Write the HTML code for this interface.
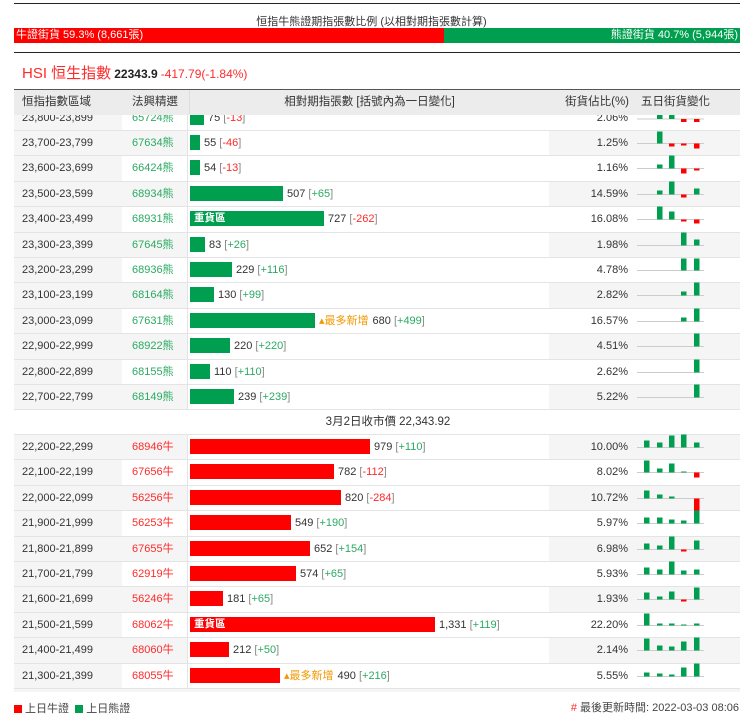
<!DOCTYPE html>
<html><head><meta charset="utf-8">
<style>
*{margin:0;padding:0;box-sizing:border-box}
body{width:743px;height:720px;background:#fff;font-family:"Liberation Sans","Noto Sans CJK TC",sans-serif;font-size:11px;color:#333;position:relative;overflow:hidden}
.abs{position:absolute}
.r{position:absolute;left:14px;width:726px;height:25.4px;border-bottom:1px solid #e4e4e4;background:#fff}
.r.gy .c2,.r.gy .p,.r.gy .s{background:#f5f5f5}
.c1{position:absolute;left:0;width:108px;height:100%;background:#f5f5f5;padding-left:8px;line-height:25px}
.c2{position:absolute;left:108px;width:66px;height:100%;padding-left:10px;line-height:25px;border-right:1px solid #e4e4e4}
.g{color:#2aaa62}.rd{color:#ff2a2a}
.b{position:absolute;left:175px;width:360px;height:100%;line-height:25px;white-space:nowrap;padding-left:1px}
.b i{display:inline-block;height:15px;vertical-align:-4px;margin-right:4px;position:relative;color:#fff;font-style:normal;font-size:11px;line-height:15px;padding-left:0}
.b i b{position:absolute;left:4px;top:0;font-weight:bold;font-size:10.5px}
.bg{background:#009f4f}.br{background:#ff0000}
.b .n{color:#333}.b .k{color:#888}
.o{color:#f39800;margin-right:4px}
.p{position:absolute;left:535px;width:85px;height:100%;text-align:right;padding-right:6px;line-height:25px}
.s{position:absolute;left:620px;width:106px;height:100%}
.s svg{position:absolute;left:0;top:0;overflow:visible}
</style></head><body>
<div class="abs" style="left:14px;top:3px;width:726px;height:1px;background:#222"></div>
<div class="abs" style="left:0;top:13px;width:743px;text-align:center;font-size:11px;color:#333">恒指牛熊證期指張數比例 (以相對期指張數計算)</div>
<div class="abs" style="left:14px;top:28px;width:430px;height:15px;background:#ff0000;color:#fff;line-height:15px;padding-left:2px">牛證街貨 59.3% (8,661張)</div>
<div class="abs" style="left:444px;top:28px;width:296px;height:15px;background:#009f4f;color:#fff;line-height:15px;text-align:right;padding-right:2px">熊證街貨 40.7% (5,944張)</div>
<div class="abs" style="left:14px;top:52px;width:726px;height:1px;background:#222"></div>
<div class="abs" style="left:22px;top:62px;white-space:nowrap"><span style="color:#ff2a2a;font-size:15px">HSI 恒生指數</span> <span style="font-size:12px;color:#222;font-weight:bold">22343.9</span> <span style="font-size:12px;color:#ff2a2a">-417.79(-1.84%)</span></div>

<div id="rows">
<div class="r" style="top:105.6px"><div class="c1">23,800-23,899</div><div class="c2 g">65724熊</div><div class="b"><i class="bg" style="width:14px"></i><span class="n">75 </span><span class="k">[<span class="rd">-13</span>]</span></div><div class="p">2.06%</div><div class="s"></div></div>
<div class="r gy" style="top:131px"><div class="c1">23,700-23,799</div><div class="c2 g">67634熊</div><div class="b"><i class="bg" style="width:10px"></i><span class="n">55 </span><span class="k">[<span class="rd">-46</span>]</span></div><div class="p">1.25%</div><div class="s"></div></div>
<div class="r" style="top:156.4px"><div class="c1">23,600-23,699</div><div class="c2 g">66424熊</div><div class="b"><i class="bg" style="width:10px"></i><span class="n">54 </span><span class="k">[<span class="rd">-13</span>]</span></div><div class="p">1.16%</div><div class="s"></div></div>
<div class="r gy" style="top:181.8px"><div class="c1">23,500-23,599</div><div class="c2 g">68934熊</div><div class="b"><i class="bg" style="width:93px"></i><span class="n">507 </span><span class="k">[<span class="g">+65</span>]</span></div><div class="p">14.59%</div><div class="s"></div></div>
<div class="r" style="top:207.2px"><div class="c1">23,400-23,499</div><div class="c2 g">68931熊</div><div class="b"><i class="bg" style="width:134px"><b>重貨區</b></i><span class="n">727 </span><span class="k">[<span class="rd">-262</span>]</span></div><div class="p">16.08%</div><div class="s"></div></div>
<div class="r gy" style="top:232.6px"><div class="c1">23,300-23,399</div><div class="c2 g">67645熊</div><div class="b"><i class="bg" style="width:15px"></i><span class="n">83 </span><span class="k">[<span class="g">+26</span>]</span></div><div class="p">1.98%</div><div class="s"></div></div>
<div class="r" style="top:258px"><div class="c1">23,200-23,299</div><div class="c2 g">68936熊</div><div class="b"><i class="bg" style="width:42px"></i><span class="n">229 </span><span class="k">[<span class="g">+116</span>]</span></div><div class="p">4.78%</div><div class="s"></div></div>
<div class="r gy" style="top:283.4px"><div class="c1">23,100-23,199</div><div class="c2 g">68164熊</div><div class="b"><i class="bg" style="width:24px"></i><span class="n">130 </span><span class="k">[<span class="g">+99</span>]</span></div><div class="p">2.82%</div><div class="s"></div></div>
<div class="r" style="top:308.8px"><div class="c1">23,000-23,099</div><div class="c2 g">67631熊</div><div class="b"><i class="bg" style="width:125px"></i><span class="o">▴最多新增</span><span class="n">680 </span><span class="k">[<span class="g">+499</span>]</span></div><div class="p">16.57%</div><div class="s"></div></div>
<div class="r gy" style="top:334.2px"><div class="c1">22,900-22,999</div><div class="c2 g">68922熊</div><div class="b"><i class="bg" style="width:40px"></i><span class="n">220 </span><span class="k">[<span class="g">+220</span>]</span></div><div class="p">4.51%</div><div class="s"></div></div>
<div class="r" style="top:359.6px"><div class="c1">22,800-22,899</div><div class="c2 g">68155熊</div><div class="b"><i class="bg" style="width:20px"></i><span class="n">110 </span><span class="k">[<span class="g">+110</span>]</span></div><div class="p">2.62%</div><div class="s"></div></div>
<div class="r gy" style="top:385px"><div class="c1">22,700-22,799</div><div class="c2 g">68149熊</div><div class="b"><i class="bg" style="width:44px"></i><span class="n">239 </span><span class="k">[<span class="g">+239</span>]</span></div><div class="p">5.22%</div><div class="s"></div></div>

<div class="abs" style="left:14px;top:410px;width:726px;height:25px;background:#fff;line-height:25px;text-align:center;font-size:11.5px;padding-left:22px;border-bottom:1px solid #e4e4e4">3月2日收市價 22,343.92</div>

<div class="r gy" style="top:435px"><div class="c1">22,200-22,299</div><div class="c2 rd">68946牛</div><div class="b"><i class="br" style="width:180px"></i><span class="n">979 </span><span class="k">[<span class="g">+110</span>]</span></div><div class="p">10.00%</div><div class="s"></div></div>
<div class="r" style="top:460.4px"><div class="c1">22,100-22,199</div><div class="c2 rd">67656牛</div><div class="b"><i class="br" style="width:144px"></i><span class="n">782 </span><span class="k">[<span class="rd">-112</span>]</span></div><div class="p">8.02%</div><div class="s"></div></div>
<div class="r gy" style="top:485.8px"><div class="c1">22,000-22,099</div><div class="c2 rd">56256牛</div><div class="b"><i class="br" style="width:151px"></i><span class="n">820 </span><span class="k">[<span class="rd">-284</span>]</span></div><div class="p">10.72%</div><div class="s"></div></div>
<div class="r" style="top:511.2px"><div class="c1">21,900-21,999</div><div class="c2 rd">56253牛</div><div class="b"><i class="br" style="width:101px"></i><span class="n">549 </span><span class="k">[<span class="g">+190</span>]</span></div><div class="p">5.97%</div><div class="s"></div></div>
<div class="r gy" style="top:536.6px"><div class="c1">21,800-21,899</div><div class="c2 rd">67655牛</div><div class="b"><i class="br" style="width:120px"></i><span class="n">652 </span><span class="k">[<span class="g">+154</span>]</span></div><div class="p">6.98%</div><div class="s"></div></div>
<div class="r" style="top:562px"><div class="c1">21,700-21,799</div><div class="c2 rd">62919牛</div><div class="b"><i class="br" style="width:106px"></i><span class="n">574 </span><span class="k">[<span class="g">+65</span>]</span></div><div class="p">5.93%</div><div class="s"></div></div>
<div class="r gy" style="top:587.4px"><div class="c1">21,600-21,699</div><div class="c2 rd">56246牛</div><div class="b"><i class="br" style="width:33px"></i><span class="n">181 </span><span class="k">[<span class="g">+65</span>]</span></div><div class="p">1.93%</div><div class="s"></div></div>
<div class="r" style="top:612.8px"><div class="c1">21,500-21,599</div><div class="c2 rd">68062牛</div><div class="b"><i class="br" style="width:245px"><b>重貨區</b></i><span class="n">1,331 </span><span class="k">[<span class="g">+119</span>]</span></div><div class="p">22.20%</div><div class="s"></div></div>
<div class="r gy" style="top:638.2px"><div class="c1">21,400-21,499</div><div class="c2 rd">68060牛</div><div class="b"><i class="br" style="width:39px"></i><span class="n">212 </span><span class="k">[<span class="g">+50</span>]</span></div><div class="p">2.14%</div><div class="s"></div></div>
<div class="r" style="top:663.6px"><div class="c1">21,300-21,399</div><div class="c2 rd">68055牛</div><div class="b"><i class="br" style="width:90px"></i><span class="o">▴最多新增</span><span class="n">490 </span><span class="k">[<span class="g">+216</span>]</span></div><div class="p">5.55%</div><div class="s"></div></div>
</div>
<div class="abs" style="left:14px;top:689px;width:726px;height:3px;background:#f5f5f5"></div>

<div class="abs" style="left:14px;top:89px;width:726px;height:26px;background:#ececec;border-top:1px solid #555;font-size:11.5px;color:#333;line-height:24px">
<span class="abs" style="left:8px">恒指指數區域</span>
<span class="abs" style="left:118px">法興精選</span>
<span class="abs" style="left:175px;width:360px;text-align:center;border-left:1px solid #ddd">相對期指張數 [括號內為一日變化]</span>
<span class="abs" style="left:535px;width:80px;text-align:right">街貨佔比(%)</span>
<span class="abs" style="left:627px">五日街貨變化</span>
</div>

<div class="abs" style="left:14px;top:700px;font-size:11px;color:#444;white-space:nowrap"><span style="display:inline-block;width:8px;height:8px;background:#ff0000;vertical-align:-1px"></span> 上日牛證 &nbsp;<span style="display:inline-block;width:8px;height:8px;background:#009f4f;vertical-align:-1px"></span> 上日熊證</div>
<div class="abs" style="right:4px;top:699px;font-size:11px;color:#444"><span style="color:#ff2a2a">#</span> 最後更新時間: 2022-03-03 08:06</div>

<script>
var data=[
[0,5,5,-3,-3],[0,12,-3,-2,-5],[0,4,13,-5,-2],[0,4,13,-3,6],[0,13,8,-2,-4],[0,0,0,13,6],[0,0,0,12,12],[0,0,0,4,13],[0,0,0,4,13],[0,0,0,0,13],[0,0,0,0,13],[0,0,0,0,13],
[7,5,12,13,5],[12,4,9,1,-5],[8,4,2,0,'m'],[6,6,4,3,13],[6,4,13,-2,9],[7,5,13,4,5],[7,3,8,-2,12],[12,2,2,1,2],[12,5,4,9,13],[4,3,2,9,13]];
var ss=document.querySelectorAll('.s');
ss.forEach(function(s,i){
 var d=data[i],bl=i==0?13:12.5,h='<svg width="106" height="25"><line x1="3" x2="70" y1="'+bl+'" y2="'+bl+'" stroke="#ccc" stroke-width="1"/>';
 var xs=[10,23,35,47,60];
 d.forEach(function(v,j){
  if(v==='m'){h+='<rect x="'+xs[j]+'" y="'+bl+'" width="5.5" height="12" fill="#f00"/><rect x="'+xs[j]+'" y="'+(bl+12)+'" width="5.5" height="13" fill="#009f4f"/>';return;}
  if(v>0)h+='<rect x="'+xs[j]+'" y="'+(bl-v)+'" width="5.5" height="'+v+'" fill="#009f4f"/>';
  else if(v<0)h+='<rect x="'+xs[j]+'" y="'+bl+'" width="5.5" height="'+(-v)+'" fill="#f00"/>';
 });
 s.innerHTML=h+'</svg>';
});
</script>
</body></html>
